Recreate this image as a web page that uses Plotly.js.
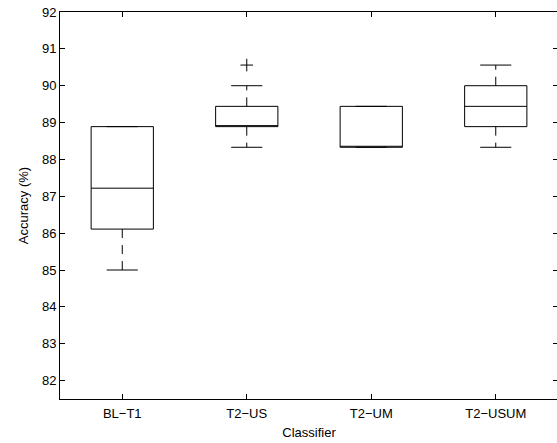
<!DOCTYPE html>
<html>
<head>
<meta charset="utf-8">
<script src="https://cdn.plot.ly/plotly-3.0.1.min.js"></script>
<style>
html,body{margin:0;padding:0;overflow:hidden;background:#fff;}
#chart{width:560px;height:443px;}
</style>
</head>
<body>
<div id="chart"></div>
<script>
const categories = ['BL\u2212T1', 'T2\u2212US', 'T2\u2212UM', 'T2\u2212USUM'];
const positions = [1, 2, 3, 4];
const q1 = [86.11, 88.89, 88.33, 88.89];
const medians = [87.22, 88.89, 88.33, 89.44];
const q3 = [88.89, 89.44, 89.44, 90.00];
const lowerWhisker = [85.00, 88.33, 88.33, 88.33];
const upperWhisker = [88.89, 90.00, 89.44, 90.56];
const outlierPos = [2];
const outlierVal = [90.56];
const yTicks = [82, 83, 84, 85, 86, 87, 88, 89, 90, 91, 92];

const capHalf = 0.125;
const wx = [], wy = [], cx = [], cy = [];
positions.forEach((p, i) => {
  if (upperWhisker[i] > q3[i]) { wx.push(p, p, null); wy.push(q3[i], upperWhisker[i], null); }
  if (lowerWhisker[i] < q1[i]) { wx.push(p, p, null); wy.push(q1[i], lowerWhisker[i], null); }
  cx.push(p - capHalf, p + capHalf, null, p - capHalf, p + capHalf, null);
  cy.push(upperWhisker[i], upperWhisker[i], null, lowerWhisker[i], lowerWhisker[i], null);
});

const traces = [
  {
    type: 'box', x: positions, q1: q1, median: medians, q3: q3,
    lowerfence: q1, upperfence: q3, width: 0.5, whiskerwidth: 0,
    boxpoints: false, fillcolor: 'rgba(0,0,0,0)',
    line: {color: '#000', width: 1}, showlegend: false, hoverinfo: 'skip'
  },
  {
    type: 'scatter', mode: 'lines', x: wx, y: wy, connectgaps: false,
    line: {color: '#000', width: 1, dash: '9px,7px'}, showlegend: false, hoverinfo: 'skip'
  },
  {
    type: 'scatter', mode: 'lines', x: cx, y: cy, connectgaps: false,
    line: {color: '#000', width: 1}, showlegend: false, hoverinfo: 'skip'
  },
  {
    type: 'scatter', mode: 'markers', x: outlierPos, y: outlierVal,
    marker: {symbol: 'cross-thin', size: 9, line: {color: '#000', width: 1}, color: '#000'},
    showlegend: false, hoverinfo: 'skip'
  }
];

const layout = {
  width: 560, height: 443,
  margin: {l: 60, r: 2, t: 12, b: 44},
  paper_bgcolor: '#fff', plot_bgcolor: '#fff',
  font: {family: '"Liberation Sans", Arial, sans-serif', size: 13, color: '#000'},
  showlegend: false,
  xaxis: {
    range: [0.5, 4.5], tickmode: 'array', tickvals: positions, ticktext: categories,
    ticks: 'inside', ticklen: 5, tickcolor: '#000', tickwidth: 1,
    showline: true, linecolor: '#000', linewidth: 1, mirror: 'ticks',
    showgrid: false, zeroline: false,
    tickfont: {size: 13}, ticklabelstandoff: 2,
    title: {text: 'Classifier', font: {size: 13}, standoff: 8}
  },
  yaxis: {
    range: [81.5, 92], tickmode: 'array', tickvals: yTicks,
    ticks: 'inside', ticklen: 5, tickcolor: '#000', tickwidth: 1,
    showline: true, linecolor: '#000', linewidth: 1, mirror: 'ticks',
    showgrid: false, zeroline: false,
    tickfont: {size: 13},
    title: {text: 'Accuracy (%)', font: {size: 13}, standoff: 10}
  }
};

Plotly.newPlot('chart', traces, layout, {displayModeBar: false, staticPlot: true});
</script>
</body>
</html>
